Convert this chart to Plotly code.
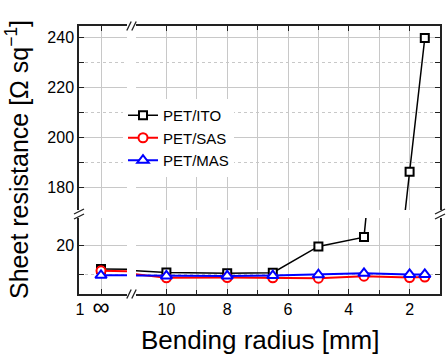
import plotly.graph_objects as go

# ---------------- data ----------------
radius = [10, 8, 6.5, 5, 3.5, 2, 1.5]          # bending radius [mm]
INF_X = 12                                      # x slot used for the flat sample (r = ∞)
rs_ito = [11.8, 10.6, 10.3, 10.5, 19.8, 23.1, 186.3, 239.8]
rs_sas = [11.2, 8.7, 8.8, 8.7, 8.6, 9.3, 8.8, 9.0]
rs_mas = [9.6, 9.4, 9.4, 9.5, 9.8, 10.3, 9.9, 9.9]
series_names = ["PET/ITO", "PET/SAS", "PET/MAS"]
left_tick_vals = [12.105, 12]
left_tick_text = ["1", "<span style='font-size:24px'>∞</span>"]

x_all = [INF_X] + radius

# ---------------- geometry ----------------
W, H = 447, 359
ML, MR, MT, MB = 79, 7, 26, 65
PW, PH = W - ML - MR, H - MT - MB


def fx(p):
    return (p - ML) / PW


def fy(p):
    return (H - MB - p) / PH


x_left_dom = [0, fx(127)]
x_right_dom = [fx(136), 1]
y_low_dom = [0, fy(218)]
y_up_dom = [fy(210), 1]

FONT = "Liberation Sans, Arial, sans-serif"
AX = "#222222"
GRID = "#c8c8c8"

base = dict(showline=True, linecolor=AX, linewidth=1.5, ticks="inside", ticklen=5,
            tickwidth=1.2, tickcolor=AX, showgrid=True, gridcolor=GRID, gridwidth=1,
            zeroline=False, mirror=False, tickfont=dict(size=16, color="black", family=FONT))

yminor = dict(dtick=10, tick0=0, ticks="inside", ticklen=5, tickcolor=AX, tickwidth=1.2,
              showgrid=True, gridcolor=GRID, griddash="dot", gridwidth=1)
xminor = dict(dtick=1, tick0=0, ticks="inside", ticklen=4, tickcolor=AX, tickwidth=1.2,
              showgrid=True, gridcolor=GRID, griddash="solid", gridwidth=1)

fig = go.Figure()

styles = [
    dict(color="black", width=1.5, symbol="square", size=8),
    dict(color="red", width=2, symbol="circle", size=9),
    dict(color="blue", width=2, symbol="triangle-up", size=10),
]
all_vals = [rs_ito, rs_sas, rs_mas]

subplots = [("x", "y"), ("x2", "y2"), ("x3", "y3"), ("x4", "y4")]
for name, vals, st in zip(series_names, all_vals, styles):
    for i, (xa, ya) in enumerate(subplots):
        fig.add_trace(go.Scatter(
            x=x_all, y=vals, xaxis=xa, yaxis=ya, mode="lines+markers", name=name,
            legendgroup=name, showlegend=(i == 0),
            line=dict(color=st["color"], width=st["width"]),
            marker=dict(symbol=st["symbol"], size=st["size"], color="white",
                        line=dict(color=st["color"], width=2)),
        ))

low_range = [3.0, 3.0 + (fy(218) * PH) / 2.83]
up_range = [171, 171 + ((1 - fy(210)) * PH) / 2.5]
left_range = [12.11, 11.87]
right_range = [11, 1]

fig.update_layout(
    width=W, height=H, margin=dict(l=ML, r=MR, t=MT, b=MB),
    paper_bgcolor="white", plot_bgcolor="white",
    font=dict(family=FONT, color="black"),
    xaxis=dict(base, domain=x_left_dom, anchor="y", side="bottom", range=left_range,
               tickmode="array", tickvals=left_tick_vals, ticktext=left_tick_text),
    xaxis2=dict(base, domain=x_right_dom, anchor="y2", side="bottom", range=right_range,
                dtick=2, tick0=0, minor=xminor),
    xaxis3=dict(base, domain=x_left_dom, anchor="y3", side="top", range=left_range,
                tickmode="array", tickvals=left_tick_vals, ticktext=left_tick_text,
                showticklabels=False),
    xaxis4=dict(base, domain=x_right_dom, anchor="y4", side="top", range=right_range,
                dtick=2, tick0=0, minor=xminor, showticklabels=False),
    yaxis=dict(base, domain=y_low_dom, anchor="x", side="left", range=low_range,
               dtick=20, tick0=0, minor=yminor),
    yaxis2=dict(base, domain=y_low_dom, anchor="x2", side="right", range=low_range,
                dtick=20, tick0=0, minor=yminor, showticklabels=False),
    yaxis3=dict(base, domain=y_up_dom, anchor="x3", side="left", range=up_range,
                dtick=20, tick0=0, minor=yminor),
    yaxis4=dict(base, domain=y_up_dom, anchor="x4", side="right", range=up_range,
                dtick=20, tick0=0, minor=yminor, showticklabels=False),
    legend=dict(x=fx(123), y=fy(99), xanchor="left", yanchor="top",
                bgcolor="white", borderwidth=0, font=dict(size=15, family=FONT),
                tracegroupgap=0),
    showlegend=True,
)

# axis titles
fig.add_annotation(text="Bending radius [mm]", xref="paper", yref="paper",
                   x=0.5, y=fy(340), xanchor="center", yanchor="middle",
                   showarrow=False, font=dict(size=26, family=FONT))
fig.add_annotation(text="Sheet resistance [Ω sq<sup>−1</sup>]", xref="paper", yref="paper",
                   x=fx(17), y=fy(160), xanchor="center", yanchor="middle", textangle=-90,
                   showarrow=False, font=dict(size=25, family=FONT))

# break marks
shapes = []
xb = fx(131.5)
for ya in (0, 1):
    for d in (-2.5, 2.5):
        shapes.append(dict(type="line", xref="paper", yref="paper", xsizemode="pixel",
                           ysizemode="pixel", xanchor=xb, yanchor=ya,
                           x0=d - 2.2, x1=d + 2.2, y0=-4.5, y1=4.5,
                           line=dict(color=AX, width=1.3)))
yb = fy(214)
for xa in (0, 1):
    for d in (-2.5, 2.5):
        shapes.append(dict(type="line", xref="paper", yref="paper", xsizemode="pixel",
                           ysizemode="pixel", xanchor=xa, yanchor=yb,
                           x0=-5, x1=5, y0=d - 2.5, y1=d + 2.5,
                           line=dict(color=AX, width=1.3)))
fig.update_layout(shapes=shapes)

fig.write_html("out.html", config={"displayModeBar": False},
               post_script="document.body.style.margin='0';document.body.style.overflow='hidden';")
